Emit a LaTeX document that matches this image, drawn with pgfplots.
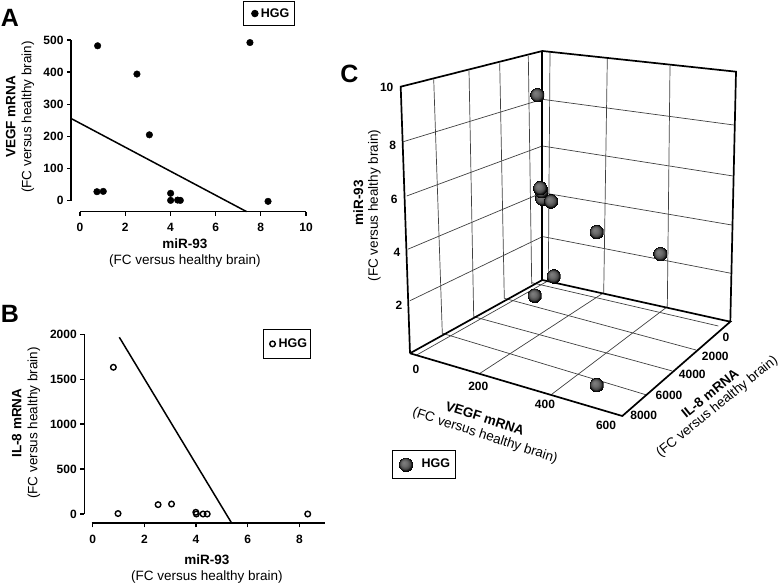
\documentclass[border=0pt]{standalone}
\usepackage{fontspec}
\setmainfont{Liberation Sans}
\usepackage{pgfplots}
\pgfplotsset{compat=1.18}

\newcommand{\tickfont}{\fontsize{12}{12}\selectfont\bfseries}
\newcommand{\labfont}{\fontsize{13.5}{16}\selectfont}
\newcommand{\hggfont}{\fontsize{12.5}{13}\selectfont\bfseries}

% shaded sphere used in panel C
\pgfdeclareradialshading{sphball}{\pgfpoint{-2bp}{2bp}}{%
  color(0bp)=(black!50); color(3bp)=(black!58); color(5.2bp)=(black!72); color(6.2bp)=(black!92); color(7.2bp)=(black)}
\pgfdeclareplotmark{sph}{\pgfscope\pgflowlevelsynccm\pgfuseshading{sphball}\endpgfscope}

\pgfplotsset{
  prism/.style={
    scale only axis, clip=false,
    axis x line*=bottom, axis y line*=left,
    axis line style={draw=none},
    tick align=outside, major tick length=4pt,
    tick style={black,line width=1.3pt},
    tick label style={font=\tickfont},
    xticklabel style={yshift=-4pt},
    /pgf/number format/assume math mode=true,
    /pgf/number format/1000 sep={},
    legend cell align=left,
    legend image code/.code={\path[draw=none] (-8pt,0)--(4pt,0);\draw[##1,mark repeat=1] plot coordinates {(0cm,0cm)};},
    xlabel style={align=center,font=\labfont,anchor=center},
    ylabel style={align=center,font=\labfont,anchor=center},
  }
}

\begin{document}
\begin{tikzpicture}[x=1pt,y=1pt]
\path[use as bounding box] (0,0) rectangle (778,585);

% panel letters
\node[font=\fontsize{25}{25}\selectfont\bfseries] at (10,567) {A};
\node[font=\fontsize{25}{25}\selectfont\bfseries] at (10,271) {B};
\node[font=\fontsize{25}{25}\selectfont\bfseries] at (349.3,510.7) {C};

% A
\begin{axis}[prism,
  at={(71pt,373.3pt)}, anchor=south west, width=235pt, height=171.7pt,
  xmin=-0.398, xmax=10, ymin=-34.2, ymax=500,
  xtick={0,2,4,6,8,10}, ytick={0,100,200,300,400,500},
  xlabel={\textbf{miR-93}\\(FC versus healthy brain)},
  ylabel={\textbf{VEGF mRNA}\\(FC versus healthy brain)},
  xlabel style={at={(axis description cs:0.485,-0.238)}},
  ylabel style={at={(axis description cs:-0.217,0.5515)}},
  legend style={at={(axis description cs:0.732,1.227)},anchor=north west,
    draw=black,line width=0.8pt,font=\hggfont,inner xsep=3.5pt,inner ysep=5pt},
]
\draw[line width=1.6pt] (axis cs:0,-34.2)--(axis cs:10,-34.2);
\draw[line width=1.6pt] (axis cs:-0.398,0)--(axis cs:-0.398,500);
\addplot[only marks,mark=*,mark size=3.3pt,black] coordinates {
  (0.78,482) (7.52,492) (2.52,394) (3.07,205) (0.75,28) (1.03,29)
  (4.01,23) (4.01,1) (4.32,2) (4.44,1) (8.32,-2)
};
\addlegendentry{HGG\hspace{2pt}}
\addplot[forget plot,black,line width=1.5pt] coordinates {(-0.4,256) (7.37,-34)};
\end{axis}

% B
\begin{axis}[prism,
  at={(84.3pt,61.7pt)}, anchor=south west, width=241pt, height=189pt,
  xmin=-0.325, xmax=9, ymin=-103.5, ymax=2000,
  xtick={0,2,4,6,8}, ytick={0,500,1000,1500,2000},
  xlabel={\textbf{miR-93}\\(FC versus healthy brain)},
  ylabel={\textbf{IL-8 mRNA}\\(FC versus healthy brain)},
  xlabel style={at={(axis description cs:0.509,-0.242)}},
  ylabel style={at={(axis description cs:-0.242,0.53)}},
  legend style={at={(axis description cs:0.74,1.026)},anchor=north west,
    draw=black,line width=0.8pt,font=\hggfont,inner xsep=1.5pt,inner ysep=7pt},
]
\draw[line width=1.6pt] (axis cs:-0.04,-103.5)--(axis cs:9,-103.5);
\draw[line width=1.6pt] (axis cs:-0.325,0)--(axis cs:-0.325,2000);
\addplot[only marks,mark=o,mark size=2.8pt,line width=1.4pt,black] coordinates {
  (0.8,1633) (0.98,5) (2.53,104) (3.05,111) (3.99,19)
  (4.01,0) (4.27,0) (4.43,0) (8.32,0)
};
\addlegendentry{HGG\hspace{4pt}}
\addplot[forget plot,black,line width=1.5pt] coordinates {(1.03,1967) (5.38,-103)};
\end{axis}

% C: the perspective box cannot be set with pgfplots' 3D view, so frame, grid and
% spheres are given as their positions on the page (y is minus the picture's row)
\begin{axis}[
  at={(335pt,85pt)}, anchor=south west, scale only axis, width=443pt, height=460pt,
  xmin=335, xmax=778, ymin=-500, ymax=-40,
  axis lines=none, clip=false,
  legend cell align=left,
  legend image code/.code={\path[draw=none] (-9.5pt,0)--(14pt,0);\draw[#1,mark repeat=1] plot coordinates {(0cm,0cm)};},
  legend style={at={(axis description cs:0.129,0.109)},anchor=north west,
    draw=black,line width=0.8pt,font=\hggfont,inner xsep=3.5pt,inner ysep=7pt},
  thin grid/.style={forget plot,black!75,line width=0.7pt},
  frame/.style={forget plot,black,line width=1.7pt},
]
% back wall grid
\addplot[thin grid] coordinates {(550,-51.7) (548.3,-280.7)};
\addplot[thin grid] coordinates {(607.3,-59) (603.7,-292.7)};
\addplot[thin grid] coordinates {(670,-66) (667.3,-306.7)};
\addplot[thin grid] coordinates {(542.3,-99.3) (733.7,-125)};
\addplot[thin grid] coordinates {(542.3,-146) (733,-176)};
\addplot[thin grid] coordinates {(542.3,-192.7) (731.7,-225)};
\addplot[thin grid] coordinates {(543.3,-236.7) (731,-273.3)};
% left wall grid
\addplot[thin grid] coordinates {(403.3,-141.7) (542.3,-99.3)};
\addplot[thin grid] coordinates {(406.7,-196) (542.3,-146)};
\addplot[thin grid] coordinates {(407.7,-249.3) (542.3,-192.7)};
\addplot[thin grid] coordinates {(410,-300.7) (542.3,-236.7)};
\addplot[thin grid] coordinates {(433.7,-79.3) (442.3,-333.3)};
\addplot[thin grid] coordinates {(469,-70.7) (473.7,-316.7)};
\addplot[thin grid] coordinates {(499.7,-63.3) (504.3,-298.3)};
\addplot[thin grid] coordinates {(528.3,-56) (531.7,-284)};
% floor grid
\addplot[thin grid] coordinates {(416.7,-355) (548.3,-280.7)};
\addplot[thin grid] coordinates {(480,-373.3) (603.7,-292.7)};
\addplot[thin grid] coordinates {(551.7,-394.3) (667.3,-306.7)};
\addplot[thin grid] coordinates {(442.3,-333.3) (646.7,-395)};
\addplot[thin grid] coordinates {(473.7,-316.7) (672.3,-371)};
\addplot[thin grid] coordinates {(504.3,-298.3) (696,-350)};
\addplot[thin grid] coordinates {(531.7,-282.7) (718.3,-326)};
% frame
\addplot[frame] coordinates {(410,-353.3) (400.7,-86.7) (542.3,-51) (736,-71.7) (730.3,-321.7)};
\addplot[frame] coordinates {(542.3,-51) (542.3,-280)};
\addplot[frame] coordinates {(410,-353.3) (542.3,-280) (730.3,-321.7) (622.3,-416) (410,-353.3)};
% samples, back to front
\addplot[only marks,mark=sph] coordinates {
  (534.3,-295.3) (553.3,-276) (660,-253.7) (596.3,-231.7) (541.7,-198.3)
  (550.7,-201) (541,-190.7) (539.7,-187.7) (537,-94.7) (596.3,-384.7)
};
\addlegendentry{HGG}
% tick labels
\begin{scope}[every node/.style={font=\tickfont}]
\node at (axis cs:386.7,-87.7) {10};
\node at (axis cs:392.7,-145) {8};
\node at (axis cs:394.3,-199.3) {6};
\node at (axis cs:397,-252.7) {4};
\node at (axis cs:399,-305) {2};
\node at (axis cs:416,-369.3) {0};
\node at (axis cs:478.3,-386.7) {200};
\node at (axis cs:545,-404) {400};
\node at (axis cs:606,-425.3) {600};
\node at (axis cs:726,-337.7) {0};
\node at (axis cs:715.3,-356.7) {2000};
\node at (axis cs:692.3,-374.3) {4000};
\node at (axis cs:669,-395) {6000};
\node at (axis cs:643.7,-415.7) {8000};
\end{scope}
% axis titles
\begin{scope}[every node/.style={font=\labfont}]
\node[rotate=90] at (axis cs:358.3,-203) {\textbf{miR-93}};
\node[rotate=90] at (axis cs:374.3,-205.7) {(FC versus healthy brain)};
\node[rotate=-18] at (axis cs:485,-418.3) {\textbf{VEGF mRNA}};
\node[rotate=-18] at (axis cs:485,-436) {(FC versus healthy brain)};
\node[rotate=39] at (axis cs:710,-393.3) {\textbf{IL-8 mRNA}};
\node[rotate=39] at (axis cs:717.3,-406.7) {(FC versus healthy brain)};
\end{scope}
\end{axis}
\end{tikzpicture}
\end{document}
